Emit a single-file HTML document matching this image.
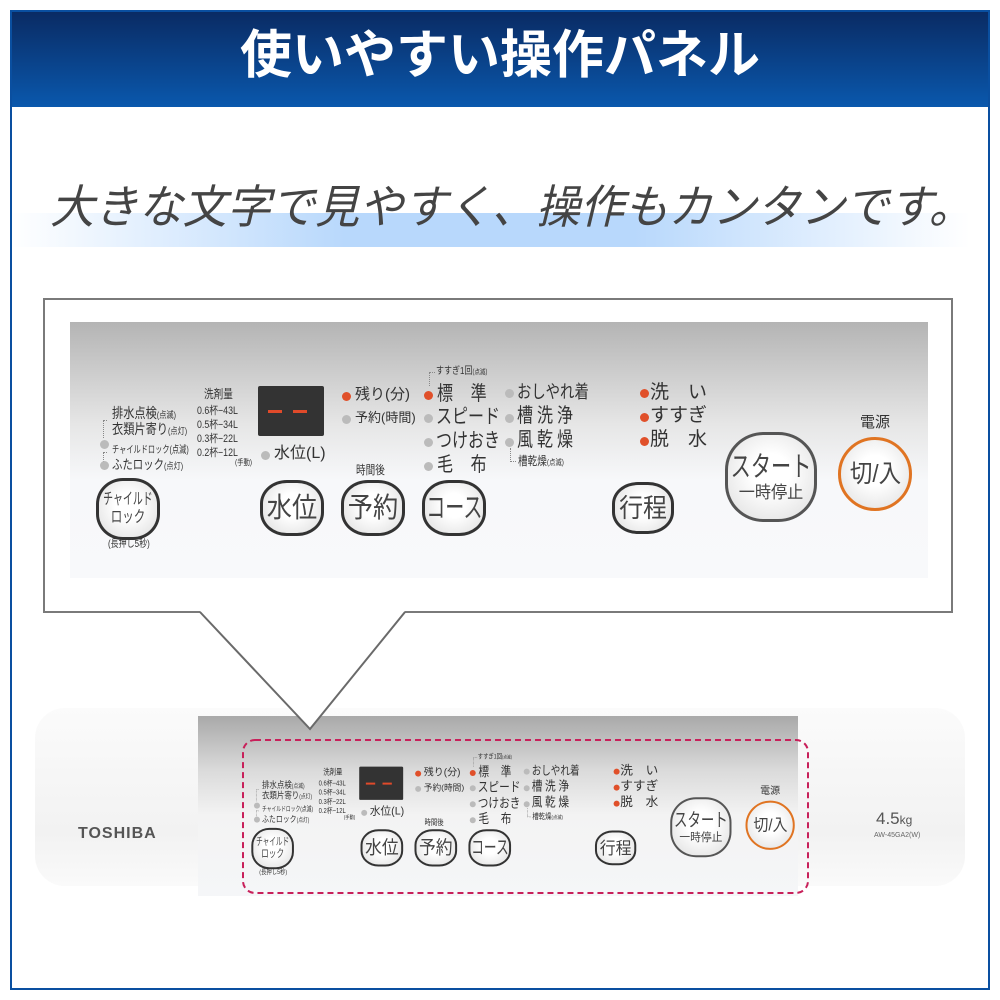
<!DOCTYPE html>
<html><head><meta charset="utf-8"><style>
*{margin:0;padding:0;box-sizing:border-box}
body{width:1000px;height:1000px;background:#fff;position:relative;overflow:hidden;font-family:"Liberation Sans","Noto Sans CJK JP",sans-serif;color:#333}
.a{position:absolute;white-space:nowrap;line-height:1}
.c{transform-origin:0 0;transform:scaleX(.8)}
.c7{transform-origin:0 0;transform:scaleX(.72)}
.frame{position:absolute;left:10px;top:10px;width:980px;height:980px;border:2px solid #0a4fa0}
.hdr{position:absolute;left:10px;top:10px;width:980px;height:97px;background:linear-gradient(#0a2a62,#0a58ad)}
.btn{position:absolute;border:3px solid #333;border-radius:42%;background:radial-gradient(circle at 50% 45%,#fff 30%,#ddd);display:flex;flex-direction:column;align-items:center;justify-content:center;text-align:center;color:#444;line-height:1;white-space:nowrap}
.btn span{display:inline-block;transform:scaleX(.72)}
.dot{position:absolute;width:9px;height:9px;border-radius:50%;background:#bbb}
.r{background:#e0502a}
.panel{position:absolute;width:860px;height:256px}
</style></head><body>
<div class="hdr"></div>
<div class="frame"></div>
<div class="a" style="left:0;width:1000px;top:30px;text-align:center;color:#fff;font-size:52px;font-weight:bold">使いやすい操作パネル</div>
<div class="a" style="left:10px;top:213px;width:960px;height:34px;background:linear-gradient(90deg,rgba(190,220,255,0),#b8d8fc 35%,#b8d8fc 65%,rgba(190,220,255,0))"></div>
<div class="a" style="left:50px;top:184px;font-size:46px;font-style:italic;color:#444;transform-origin:0 0;transform:scaleX(.96)">大きな文字で見やすく、操作もカンタンです。</div>

<div class="a" style="left:43px;top:298px;width:910px;height:315px;border:2px solid #7a7a7a;background:#fff"></div>
<div class="a" style="left:70px;top:322px;width:858px;height:256px;background:linear-gradient(#b4b4b4,#e6e6e6 40%,#f7f8fa 62%,#f8f9fb)"></div>

<div class="a" style="left:35px;top:708px;width:930px;height:178px;border-radius:30px;background:linear-gradient(#fbfbfb,#f2f2f2 70%,#fafafa)"></div>
<div class="a" style="left:198px;top:716px;width:600px;height:180px;background:linear-gradient(#a9a9a9,#dadada 30%,#f3f3f3 55%,#f5f6f8)"></div>
<div class="a" style="left:78px;top:826px;font-size:16px;font-weight:bold;color:#555;letter-spacing:1px">TOSHIBA</div>
<div class="a" style="left:876px;top:810px;font-size:17px;color:#555">4.5<span style="font-size:12px">kg</span></div>
<div class="a" style="left:874px;top:832px;font-size:7px;color:#666">AW-45GA2(W)</div>

<svg class="a" style="left:0;top:0" width="1000" height="1000">
<polygon points="200,611 310,729 405,611" fill="#fff" stroke="none"/>
<polyline points="200,612 310,729 405,612" fill="none" stroke="#6a6a6a" stroke-width="2"/>
<rect x="243" y="740" width="565" height="153" rx="12" fill="none" stroke="#c8205a" stroke-width="2" stroke-dasharray="6,4"/>
</svg>

<div id="big" class="panel" style="left:70px;top:322px">
<div class="a c" style="left:42px;top:84px;font-size:14px">排水点検<span style="font-size:9px">(点滅)</span></div>
<div class="a c" style="left:42px;top:100px;font-size:14px">衣類片寄り<span style="font-size:9px">(点灯)</span></div>
<div class="a" style="left:33px;top:98px;width:4px;height:18px;border-left:1px dotted #888;border-top:1px dotted #888"></div>
<div class="dot" style="left:30px;top:118px"></div>
<div class="a" style="left:33px;top:130px;width:4px;height:12px;border-left:1px dotted #888;border-top:1px dotted #888"></div>
<div class="a c7" style="left:42px;top:124px;font-size:10px">チャイルドロック(点滅)</div>
<div class="dot" style="left:30px;top:139px"></div>
<div class="a c" style="left:42px;top:136px;font-size:13px">ふたロック<span style="font-size:9px">(点灯)</span></div>
<div class="a c" style="left:134px;top:66px;font-size:12px">洗剤量</div>
<div class="a c" style="left:127px;top:82px;font-size:11px;line-height:14px">0.6杯−43L<br>0.5杯−34L<br>0.3杯−22L<br>0.2杯−12L</div>
<div class="a c" style="left:165px;top:137px;font-size:8px">(手動)</div>
<div class="a" style="left:188px;top:64px;width:66px;height:50px;background:#333;border-radius:2px"></div>
<div class="a" style="left:198px;top:88px;width:14px;height:3px;background:#e04a2a"></div>
<div class="a" style="left:223px;top:88px;width:14px;height:3px;background:#e04a2a"></div>
<div class="dot" style="left:191px;top:129px"></div>
<div class="a" style="left:204px;top:124px;font-size:16px">水位(L)</div>
<div class="dot r" style="left:272px;top:70px"></div>
<div class="a" style="left:285px;top:65px;font-size:15px">残り(分)</div>
<div class="dot" style="left:272px;top:93px"></div>
<div class="a" style="left:285px;top:89px;font-size:13px">予約(時間)</div>
<div class="a c" style="left:286px;top:142px;font-size:12px">時間後</div>
<div class="a c" style="left:366px;top:45px;font-size:10px">すすぎ1回<span style="font-size:7px">(点滅)</span></div>
<div class="a" style="left:359px;top:50px;width:6px;height:14px;border-left:1px dotted #888;border-top:1px dotted #888"></div>
<div class="dot r" style="left:354px;top:69px"></div>
<div class="a c" style="left:367px;top:62px;font-size:20px;letter-spacing:1px">標　準</div>
<div class="dot" style="left:354px;top:92px"></div>
<div class="a c" style="left:366px;top:85px;font-size:20px">スピード</div>
<div class="dot" style="left:354px;top:116px"></div>
<div class="a c" style="left:366px;top:109px;font-size:20px">つけおき</div>
<div class="dot" style="left:354px;top:140px"></div>
<div class="a c" style="left:367px;top:133px;font-size:20px;letter-spacing:1px">毛　布</div>
<div class="dot" style="left:435px;top:67px"></div>
<div class="a c" style="left:447px;top:61px;font-size:18px">おしやれ着</div>
<div class="dot" style="left:435px;top:92px"></div>
<div class="a c" style="left:447px;top:84px;font-size:20px;letter-spacing:5px">槽洗浄</div>
<div class="dot" style="left:435px;top:116px"></div>
<div class="a c" style="left:447px;top:108px;font-size:20px;letter-spacing:5px">風乾燥</div>
<div class="a" style="left:440px;top:126px;width:6px;height:14px;border-left:1px dotted #888;border-bottom:1px dotted #888"></div>
<div class="a c" style="left:448px;top:133px;font-size:12px">槽乾燥<span style="font-size:8px">(点滅)</span></div>
<div class="dot r" style="left:570px;top:67px"></div>
<div class="a" style="left:580px;top:61px;font-size:19px">洗　い</div>
<div class="dot r" style="left:570px;top:91px"></div>
<div class="a" style="left:580px;top:84px;font-size:19px">すすぎ</div>
<div class="dot r" style="left:570px;top:115px"></div>
<div class="a" style="left:580px;top:108px;font-size:19px">脱　水</div>
<div class="a" style="left:790px;top:93px;font-size:15px">電源</div>
<div class="btn" style="left:26px;top:156px;width:64px;height:62px;font-size:16px;line-height:1.1"><span style="transform:scaleX(.62)">チャイルド</span><span>ロック</span></div>
<div class="a c" style="left:38px;top:218px;font-size:10px">(長押し5秒)</div>
<div class="btn" style="left:190px;top:158px;width:64px;height:56px;font-size:28px"><span style="transform:scaleX(.9)">水位</span></div>
<div class="btn" style="left:271px;top:158px;width:64px;height:56px;font-size:28px"><span style="transform:scaleX(.9)">予約</span></div>
<div class="btn" style="left:352px;top:158px;width:64px;height:56px;font-size:28px"><span style="transform:scaleX(.68)">コース</span></div>
<div class="btn" style="left:542px;top:160px;width:62px;height:52px;font-size:26px"><span style="transform:scaleX(.92)">行程</span></div>
<div class="btn" style="left:655px;top:110px;width:92px;height:90px;font-size:28px;border-color:#555;line-height:1.15"><span>スタート</span><span style="font-size:17px;transform:scaleX(.95)">一時停止</span></div>
<div class="btn" style="left:768px;top:115px;width:74px;height:74px;border-radius:50%;border-color:#e07422;font-size:25px"><span style="transform:scaleX(.9)">切/入</span></div>
</div>
<div class="panel" style="left:234px;top:724px;transform:scale(0.666);transform-origin:0 0" id="small"></div>
<script>document.getElementById('small').innerHTML=document.getElementById('big').innerHTML;</script>
</body></html>
